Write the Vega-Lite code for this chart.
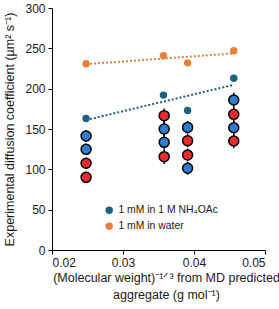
{
  "$schema": "https://vega.github.io/schema/vega-lite/v6.json",
  "width": 213,
  "height": 242,
  "autosize": {"type": "none"},
  "padding": {"left": 52, "top": 8, "right": 14, "bottom": 59},
  "background": "white",
  "config": {
    "font": "Liberation Sans",
    "view": {"stroke": null},
    "axis": {
      "grid": false,
      "domainColor": "#000000",
      "domainWidth": 1,
      "tickColor": "#000000",
      "tickSize": 4,
      "labelFontSize": 12,
      "labelColor": "#1a1a1a",
      "titleFontSize": 12.5,
      "titleFontWeight": "normal",
      "titleColor": "#1a1a1a"
    },
    "legend": {
      "labelFontSize": 10.4,
      "labelColor": "#1a1a1a"
    }
  },
  "datasets": {
    "big": [
      {"x": 0.0248, "y": 141.3, "lo": 134.3, "hi": 148.3, "grp": "A"},
      {"x": 0.0248, "y": 124.8, "lo": 117.8, "hi": 131.8, "grp": "A"},
      {"x": 0.0248, "y": 107.5, "lo": 100.5, "hi": 114.5, "grp": "B"},
      {"x": 0.0248, "y": 90.1, "lo": 83.1, "hi": 97.1, "grp": "B"},
      {"x": 0.0358, "y": 166.5, "lo": 157.5, "hi": 175.5, "grp": "B"},
      {"x": 0.0358, "y": 150.0, "lo": 141.0, "hi": 159.0, "grp": "A"},
      {"x": 0.0358, "y": 133.5, "lo": 124.5, "hi": 142.5, "grp": "A"},
      {"x": 0.0358, "y": 115.7, "lo": 106.7, "hi": 124.7, "grp": "B"},
      {"x": 0.0391, "y": 152.0, "lo": 144.0, "hi": 160.0, "grp": "A"},
      {"x": 0.0391, "y": 135.5, "lo": 127.5, "hi": 143.5, "grp": "B"},
      {"x": 0.0391, "y": 117.8, "lo": 109.8, "hi": 125.8, "grp": "B"},
      {"x": 0.0391, "y": 101.3, "lo": 93.3, "hi": 109.3, "grp": "A"},
      {"x": 0.0456, "y": 186.0, "lo": 177.0, "hi": 195.0, "grp": "A"},
      {"x": 0.0456, "y": 168.2, "lo": 159.2, "hi": 177.2, "grp": "B"},
      {"x": 0.0456, "y": 151.6, "lo": 142.6, "hi": 160.6, "grp": "A"},
      {"x": 0.0456, "y": 135.1, "lo": 126.1, "hi": 144.1, "grp": "B"}
    ],
    "small": [
      {"x": 0.0248, "y": 163, "s": "1 mM in 1 M NH₄OAc"},
      {"x": 0.0357, "y": 192, "s": "1 mM in 1 M NH₄OAc"},
      {"x": 0.0391, "y": 173, "s": "1 mM in 1 M NH₄OAc"},
      {"x": 0.0456, "y": 213, "s": "1 mM in 1 M NH₄OAc"},
      {"x": 0.0248, "y": 231, "s": "1 mM in water"},
      {"x": 0.0357, "y": 241, "s": "1 mM in water"},
      {"x": 0.0391, "y": 232, "s": "1 mM in water"},
      {"x": 0.0456, "y": 247, "s": "1 mM in water"}
    ]
  },
  "layer": [
    {
      "data": {"name": "big"},
      "mark": {"type": "rule", "color": "#000000", "strokeWidth": 1.5},
      "encoding": {
        "x": {
          "field": "x", "type": "quantitative",
          "scale": {"domain": [0.02, 0.05], "nice": false, "zero": false},
          "axis": {
            "values": [0.02, 0.0225, 0.025, 0.0275, 0.03, 0.0325, 0.035, 0.0375, 0.04, 0.0425, 0.045, 0.0475, 0.05],
            "labelExpr": "abs(datum.value*100 - round(datum.value*100)) < 0.001 ? format(datum.value, '.2f') : ''",
            "labelPadding": 3,
            "title": ["(Molecular weight)⁻¹ᐟ³ from MD predicted", "aggregate (g mol⁻¹)"],
            "titleX": 114,
            "titlePadding": 3,
            "titleLineHeight": 17
          }
        },
        "y": {
          "field": "lo", "type": "quantitative",
          "scale": {"domain": [0, 300], "nice": false},
          "axis": {
            "values": [0, 25, 50, 75, 100, 125, 150, 175, 200, 225, 250, 275, 300],
            "labelExpr": "datum.value % 50 == 0 ? datum.label : ''",
            "labelPadding": 3,
            "title": "Experimental diffusion coefficient (µm² s⁻¹)",
            "titlePadding": 8
          }
        },
        "y2": {"field": "hi"}
      }
    },
    {
      "data": {"name": "big"},
      "mark": {"type": "circle", "size": 100, "opacity": 1, "stroke": "#000000", "strokeWidth": 1.5},
      "encoding": {
        "x": {"field": "x", "type": "quantitative"},
        "y": {"field": "y", "type": "quantitative"},
        "fill": {
          "field": "grp", "type": "nominal",
          "scale": {"domain": ["A", "B"], "range": ["#2d7dd2", "#ec2b30"]},
          "legend": null
        }
      }
    },
    {
      "data": {"name": "small"},
      "transform": [{"regression": "y", "on": "x", "groupby": ["s"]}],
      "mark": {"type": "line", "strokeDash": [2, 2], "strokeWidth": 2},
      "encoding": {
        "x": {"field": "x", "type": "quantitative"},
        "y": {"field": "y", "type": "quantitative"},
        "color": {
          "field": "s", "type": "nominal",
          "scale": {"domain": ["1 mM in 1 M NH₄OAc", "1 mM in water"], "range": ["#1d5f80", "#e8803a"]},
          "legend": {
            "title": null,
            "orient": "none",
            "legendX": 52,
            "legendY": 197,
            "symbolType": "circle",
            "symbolSize": 55,
            "symbolOpacity": 1,
            "symbolStrokeWidth": 0,
            "symbolDash": [],
            "rowPadding": 5,
            "labelOffset": 4
          }
        }
      }
    },
    {
      "data": {"name": "small"},
      "mark": {"type": "circle", "size": 55, "opacity": 1},
      "encoding": {
        "x": {"field": "x", "type": "quantitative"},
        "y": {"field": "y", "type": "quantitative"},
        "color": {
          "field": "s", "type": "nominal",
          "scale": {"domain": ["1 mM in 1 M NH₄OAc", "1 mM in water"], "range": ["#1d5f80", "#e8803a"]},
          "legend": {
            "title": null,
            "orient": "none",
            "legendX": 52,
            "legendY": 197,
            "symbolType": "circle",
            "symbolSize": 55,
            "symbolOpacity": 1,
            "symbolStrokeWidth": 0,
            "symbolDash": [],
            "rowPadding": 5,
            "labelOffset": 4
          }
        }
      }
    }
  ]
}
